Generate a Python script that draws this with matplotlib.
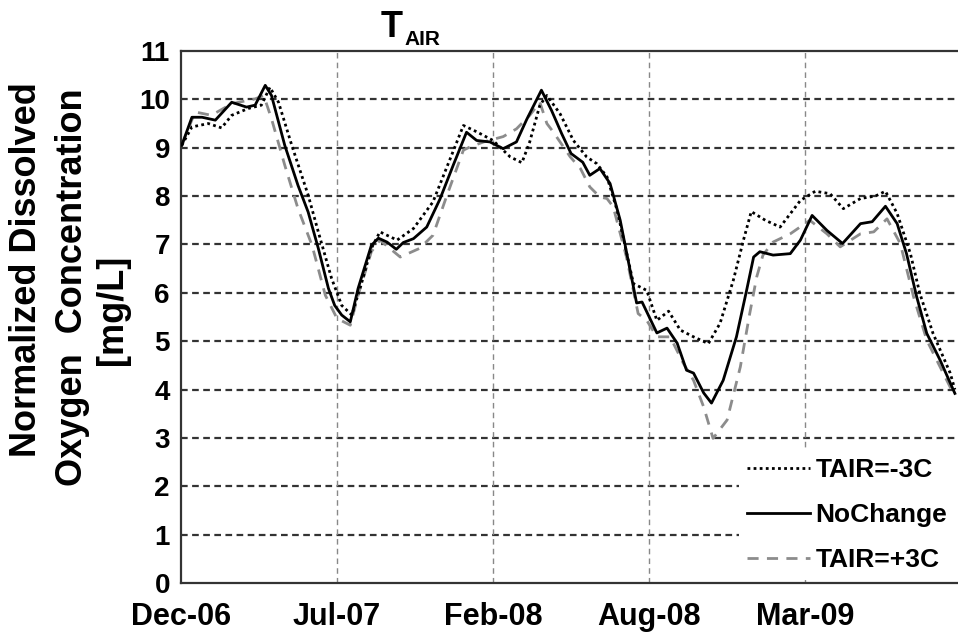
import matplotlib
matplotlib.use("Agg")
import matplotlib.pyplot as plt

# x values are days after the start of Dec-06
nochange_days = [1, 14, 27, 44, 65, 84, 95, 108, 116, 133, 150, 163, 176, 189, 197, 206, 217, 227,
                 244, 253, 264, 276, 285, 298, 315, 332, 349, 366, 379, 396, 413, 430, 443, 462,
                 475, 488, 500, 515, 524, 537, 550, 563, 584, 591, 610, 623, 636, 648, 657, 670,
                 680, 695, 712, 725, 734, 742, 759, 781, 794, 809, 828, 848, 871, 886, 903, 918,
                 930, 943, 956, 973, 992]
nochange = [9.05, 9.63, 9.63, 9.57, 9.94, 9.84, 9.88, 10.29, 10.08, 9.05, 8.22, 7.67, 6.92, 6.09,
            5.74, 5.54, 5.40, 6.09, 6.98, 7.13, 7.05, 6.90, 7.04, 7.12, 7.36, 7.94, 8.64, 9.32,
            9.15, 9.12, 8.98, 9.12, 9.58, 10.19, 9.77, 9.29, 8.88, 8.70, 8.43, 8.57, 8.26, 7.50,
            5.79, 5.81, 5.17, 5.27, 4.96, 4.40, 4.34, 3.93, 3.72, 4.19, 5.09, 6.05, 6.74, 6.85,
            6.78, 6.81, 7.09, 7.60, 7.29, 7.02, 7.43, 7.47, 7.79, 7.43, 6.81, 5.92, 5.16, 4.61,
            3.92]

minus3_days = [1, 14, 35, 52, 65, 86, 103, 114, 125, 142, 163, 176, 193, 206, 219, 232, 244, 255,
               277, 298, 323, 345, 362, 379, 400, 422, 437, 447, 460, 469, 486, 503, 520, 533,
               546, 559, 580, 597, 610, 625, 640, 657, 676, 691, 708, 721, 731, 749, 768, 794,
               813, 832, 849, 871, 890, 903, 918, 935, 947, 964, 986, 992]
minus3 = [9.05, 9.43, 9.50, 9.41, 9.67, 9.81, 9.88, 10.25, 9.94, 9.05, 8.02, 7.26, 6.30, 5.74,
          5.54, 6.23, 6.92, 7.26, 7.09, 7.33, 7.88, 8.77, 9.46, 9.33, 9.15, 8.81, 8.69, 9.12,
          9.88, 10.08, 9.70, 9.15, 8.81, 8.67, 8.40, 7.71, 6.19, 6.05, 5.43, 5.62, 5.23, 5.09,
          4.95, 5.37, 6.26, 7.09, 7.68, 7.50, 7.36, 7.91, 8.10, 8.05, 7.74, 7.95, 8.00, 8.10,
          7.64, 6.81, 5.99, 5.16, 4.34, 4.00]

plus3_days = [1, 18, 39, 65, 95, 106, 116, 133, 150, 168, 185, 200, 217, 227, 244, 255, 281, 306,
              323, 341, 362, 371, 388, 413, 430, 447, 460, 469, 477, 499, 512, 524, 537, 546,
              554, 571, 586, 597, 610, 627, 644, 657, 670, 682, 700, 717, 729, 738, 746, 759,
              781, 806, 828, 845, 871, 888, 905, 922, 939, 956, 973, 990]
plus3 = [9.05, 9.74, 9.67, 9.91, 10.01, 10.08, 9.60, 8.64, 7.74, 6.98, 5.95, 5.47, 5.33, 5.95,
         6.85, 7.09, 6.74, 6.92, 7.19, 8.02, 8.95, 9.02, 9.12, 9.23, 9.39, 9.67, 9.94, 9.50,
         9.33, 8.81, 8.57, 8.19, 7.98, 7.95, 7.78, 6.74, 5.57, 5.43, 5.09, 5.09, 4.54, 4.19,
         3.64, 2.99, 3.37, 4.47, 5.57, 6.33, 6.78, 7.05, 7.22, 7.50, 7.22, 6.95, 7.22, 7.26,
         7.53, 7.02, 5.92, 5.02, 4.47, 3.92]

tick_days = [0, 200, 400, 600, 800]
tick_labels = ["Dec-06", "Jul-07", "Feb-08", "Aug-08", "Mar-09"]

plt.rcParams["font.family"] = ["Liberation Sans", "DejaVu Sans"]
plt.rcParams["font.weight"] = "bold"

fig = plt.figure(figsize=(9.58, 6.41), dpi=100)
ax = fig.add_axes([181 / 958, 58 / 641, 1 - 181 / 958, 532 / 641])

# gridlines
for v in range(1, 11):
    ax.axhline(v, color="#333333", lw=1.6, ls=(0, (3, 2)), zorder=1)
for d in tick_days[1:]:
    ax.axvline(d, color="#888888", lw=1.0, ls=(0, (4, 3)), zorder=1)

ax.plot(minus3_days, minus3, color="black", lw=2.0, ls=(0, (1, 1.2)), label="TAIR=-3C", zorder=3)
ax.plot(nochange_days, nochange, color="black", lw=2.0, ls="-", label="NoChange", zorder=4)
ax.plot(plus3_days, plus3, color="#8c8c8c", lw=2.0, ls=(0, (4, 3)), label="TAIR=+3C", zorder=2)

ax.set_xlim(0, 996)
ax.set_ylim(0, 11)
ax.set_yticks(range(0, 12))
ax.set_xticks(tick_days)
ax.set_xticklabels(tick_labels)
ax.tick_params(axis="y", length=0, labelsize=20, pad=8)
ax.tick_params(axis="x", length=0, labelsize=22, pad=14)

for s in ["left", "bottom", "top"]:
    ax.spines[s].set_color("#333333")
    ax.spines[s].set_linewidth(1.6)
ax.spines["right"].set_visible(False)

leg = ax.legend(loc="lower right", frameon=True, fontsize=19, handlelength=2.4,
                handletextpad=0.2, labelspacing=0.8, borderaxespad=0.1, borderpad=0.3)
leg.get_frame().set_edgecolor("none")
leg.get_frame().set_facecolor("white")
leg.get_frame().set_alpha(1)

# title with subscript
fig.text(381 / 958, 1 - 37 / 641, "T", fontsize=26, weight="bold", va="baseline", ha="left")
fig.text(404 / 958, 1 - 45 / 641, "AIR", fontsize=15, weight="bold", va="baseline", ha="left")

# y-axis title in three lines
fig.text(27 / 958, 1 - 270 / 641, "Normalized Dissolved", rotation=90, fontsize=26,
         weight="bold", ha="center", va="center")
fig.text(73 / 958, 1 - 287 / 641, "Oxygen  Concentration", rotation=90, fontsize=26,
         weight="bold", ha="center", va="center")
fig.text(112 / 958, 1 - 310 / 641, "[mg/L]", rotation=90, fontsize=26,
         weight="bold", ha="center", va="center")

fig.savefig("out.png", dpi=100)
